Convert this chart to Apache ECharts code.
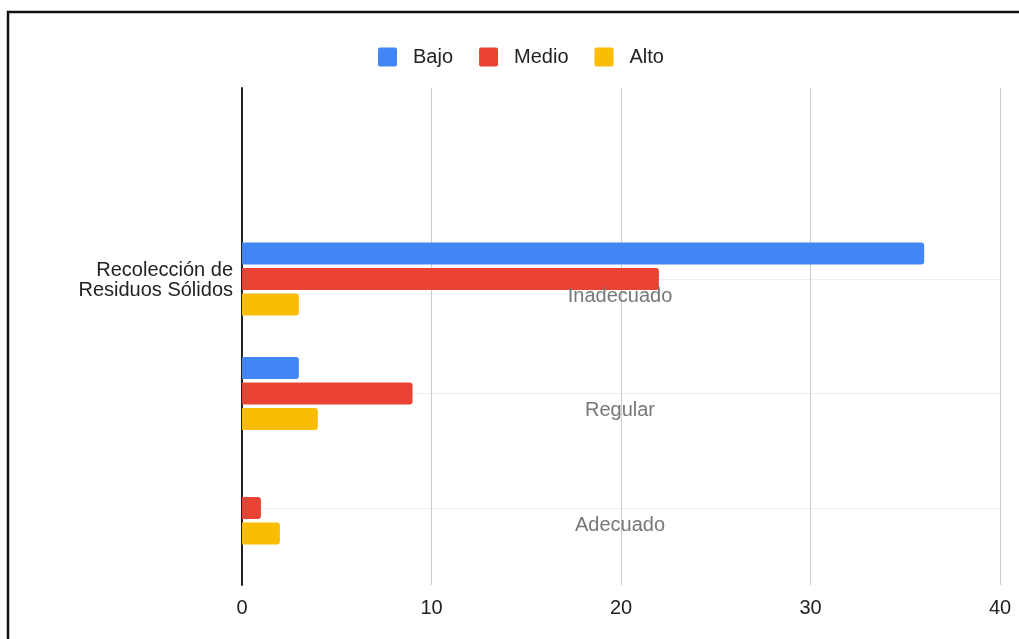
<!DOCTYPE html>
<html>
<head>
<meta charset="utf-8">
<script src="https://cdn.jsdelivr.net/npm/echarts@6/dist/echarts.min.js"></script>
<style>
html,body{margin:0;padding:0;background:#fff;}
#chart{width:1019px;height:639px;}
</style>
</head>
<body>
<div id="chart"></div>
<script>
const categories = ['Inadecuado', 'Regular', 'Adecuado'];
const seriesNames = ['Bajo', 'Medio', 'Alto'];
const bajo = [36, 3, 0];
const medio = [22, 9, 1];
const alto = [3, 4, 2];
const xTicks = [0, 10, 20, 30, 40];
const groupLabel = 'Recolección de\nResiduos Sólidos';

const colors = ['#4285F4', '#EA4335', '#FBBC04'];
const FONT = 'Liberation Sans, Arial, sans-serif';

const chart = echarts.init(document.getElementById('chart'));
const values = [bajo, medio, alto];

chart.setOption({
  animation: false,
  color: colors,
  textStyle: { fontFamily: FONT },
  graphic: [
    {
      type: 'rect', shape: { x: 8, y: 12, width: 1030, height: 650 },
      style: { fill: 'none', stroke: '#111', lineWidth: 2.5 }, z: 100
    },
    {
      type: 'text', x: 233, y: 260, z: 50,
      style: {
        text: groupLabel, align: 'right', verticalAlign: 'top',
        font: '20px ' + FONT, lineHeight: 20, fill: '#222'
      }
    }
  ],
  legend: {
    left: 373, top: 42,
    itemWidth: 19, itemHeight: 19, itemGap: 26,
    icon: 'path://M2,0 L18,0 Q20,0 20,2 L20,18 Q20,20 18,20 L2,20 Q0,20 0,18 L0,2 Q0,0 2,0 Z',
    data: seriesNames,
    textStyle: { fontFamily: FONT, fontSize: 20, color: '#222', padding: [0, 0, 0, 11] }
  },
  grid: [
    { left: 242, right: 19, top: 88, bottom: 54 },
    { left: 242, right: 19, top: 279, height: 229 }
  ],
  xAxis: [
    {
      gridIndex: 0, type: 'value', min: xTicks[0], max: xTicks[xTicks.length - 1], interval: 10,
      axisLine: { show: false }, axisTick: { show: false },
      axisLabel: { fontFamily: FONT, fontSize: 20, color: '#222', margin: 13 },
      splitLine: { lineStyle: { color: '#cccccc', width: 1 } }
    },
    {
      gridIndex: 1, type: 'value', min: xTicks[0], max: xTicks[xTicks.length - 1], show: false
    }
  ],
  yAxis: [
    {
      gridIndex: 0, type: 'value', min: 0, max: 1,
      axisLine: { show: true, lineStyle: { color: '#222', width: 2 } },
      axisTick: { show: false }, axisLabel: { show: false }, splitLine: { show: false }
    },
    {
      gridIndex: 1, type: 'category', inverse: true, boundaryGap: false, z: 10,
      position: 'left',
      data: categories,
      axisLine: { show: false }, axisTick: { show: false },
      axisLabel: {
        interval: 0, margin: -378, align: 'center', verticalAlign: 'top',
        lineHeight: 34,
        fontFamily: FONT, fontSize: 20, color: '#777'
      },
      splitLine: { show: false }
    },
    {
      gridIndex: 1, type: 'category', inverse: true, boundaryGap: false,
      position: 'right',
      data: categories,
      axisLine: { show: false }, axisTick: { show: false }, axisLabel: { show: false },
      splitLine: { show: true, lineStyle: { color: '#eeeeee', width: 1 } }
    }
  ],
  series: seriesNames.map((name, i) => ({
    name: name,
    type: 'bar',
    xAxisIndex: 1, yAxisIndex: 1,
    barWidth: 22, barGap: '16%',
    itemStyle: { borderRadius: [0, 3, 3, 0] },
    data: values[i]
  }))
});
</script>
</body>
</html>
